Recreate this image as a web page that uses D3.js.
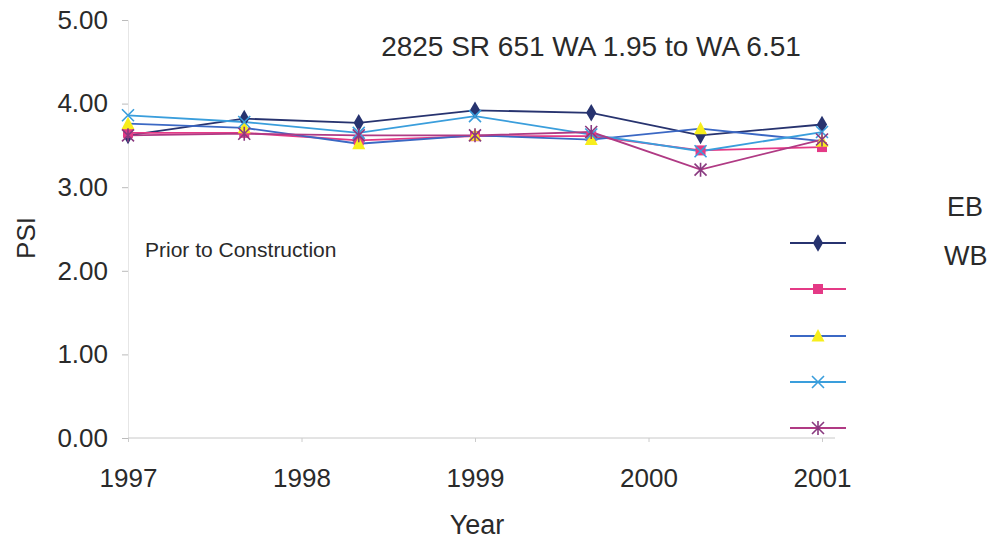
<!DOCTYPE html>
<html><head><meta charset="utf-8">
<script src="https://cdn.jsdelivr.net/npm/d3@7"></script>
<style>body{margin:0;background:#fff}svg{display:block}text{font-family:"Liberation Sans",Arial,sans-serif;fill:#2a2a2a}</style>
</head><body>
<svg id="c" width="1007" height="544"></svg>
<script>
// Data
const years = [1997, 1997.67, 1998.33, 1999, 1999.67, 2000.3, 2001];
const seriesDiamond = [3.62, 3.82, 3.77, 3.92, 3.89, 3.62, 3.75];
const seriesSquare  = [3.65, 3.65, 3.56, 3.61, 3.61, 3.44, 3.48];
const seriesTriangle= [3.76, 3.71, 3.52, 3.62, 3.57, 3.70, 3.55];
const seriesX       = [3.86, 3.78, 3.65, 3.85, 3.63, 3.43, 3.66];
const seriesStar    = [3.62, 3.64, 3.62, 3.62, 3.66, 3.21, 3.57];
const xTicks = [1997, 1998, 1999, 2000, 2001];
const yTicks = [0, 1, 2, 3, 4, 5];
const title = "2825 SR 651 WA 1.95 to WA 6.51";
const note = "Prior to Construction";
const sideLabels = ["EB", "WB"];

const series = [
  {v: seriesDiamond, line: "#27336f", fill: "#27336f", stroke: "#27336f", shape: "diamond"},
  {v: seriesSquare, line: "#e43a86", fill: "#e43a86", stroke: "#e43a86", shape: "square"},
  {v: seriesTriangle, line: "#3b68c4", fill: "#f7ee1c", stroke: "#f7ee1c", shape: "triangle"},
  {v: seriesX, line: "#3a9edc", fill: "none", stroke: "#3a9edc", shape: "x"},
  {v: seriesStar, line: "#b03a84", fill: "none", stroke: "#8a3a80", shape: "star"}
];

const svg = d3.select("#c");
const x = d3.scaleLinear().domain([1997, 2001]).range([128, 822]);
const y = d3.scaleLinear().domain([0, 5]).range([438, 20]);

// y axis
const ya = svg.append("g").attr("transform", "translate(128,0)")
  .call(d3.axisLeft(y).tickValues(yTicks).tickFormat(d3.format(".2f")).tickSize(6).tickPadding(14));
ya.select(".domain").attr("stroke", "#e6e6e6");
ya.selectAll(".tick line").attr("stroke", "#bbb");
ya.selectAll("text").style("font-size", "26px").attr("fill", "#2a2a2a");

// x axis
const xa = svg.append("g").attr("transform", "translate(0,438)")
  .call(d3.axisBottom(x).tickValues(xTicks).tickFormat(d3.format("d")).tickSize(4).tickPadding(27));
xa.select(".domain").attr("stroke", "#c8c8c8").attr("d", "M128,0H835");
xa.selectAll(".tick line").attr("stroke", "#ccc");
xa.selectAll("text").style("font-size", "26px").attr("fill", "#2a2a2a");

// labels
svg.append("text").attr("x", 477).attr("y", 534).attr("text-anchor", "middle").style("font-size", "27px").text("Year");
svg.append("text").attr("transform", "translate(35,238) rotate(-90)").attr("text-anchor", "middle").style("font-size", "26px").text("PSI");
svg.append("text").attr("x", 591).attr("y", 56).attr("text-anchor", "middle").style("font-size", "28px").text(title);
svg.append("text").attr("x", 145).attr("y", 257).style("font-size", "21px").text(note);
svg.append("text").attr("x", 947).attr("y", 216).style("font-size", "27px").text(sideLabels[0]);
svg.append("text").attr("x", 944).attr("y", 265).style("font-size", "27px").text(sideLabels[1]);

function marker(g, shape, fill, stroke) {
  if (shape === "diamond") g.append("path").attr("d", d3.symbol(d3.symbolDiamond, 90)()).attr("fill", fill);
  else if (shape === "square") g.append("rect").attr("x", -5).attr("y", -5).attr("width", 10).attr("height", 10).attr("fill", fill);
  else if (shape === "triangle") g.append("path").attr("d", "M0,-7L6.5,5.5L-6.5,5.5Z").attr("fill", fill);
  else if (shape === "x") g.append("path").attr("d", "M-6,-6L6,6M6,-6L-6,6").attr("stroke", stroke).attr("stroke-width", 1.6);
  else if (shape === "star") g.append("path").attr("d", "M-6,-6L6,6M6,-6L-6,6M0,-7V7").attr("stroke", stroke).attr("stroke-width", 1.6);
}

const line = d3.line().x((d, i) => x(years[i])).y(d => y(d));
series.forEach(s => {
  svg.append("path").attr("d", line(s.v)).attr("fill", "none").attr("stroke", s.line).attr("stroke-width", 1.8);
});
series.forEach(s => {
  s.v.forEach((v, i) => {
    const g = svg.append("g").attr("transform", `translate(${x(years[i])},${y(v)})`);
    marker(g, s.shape, s.fill, s.stroke);
  });
});

// legend (no text)
const legY = [243, 289, 336, 382, 428];
series.forEach((s, i) => {
  svg.append("line").attr("x1", 790).attr("x2", 846).attr("y1", legY[i]).attr("y2", legY[i]).attr("stroke", s.line).attr("stroke-width", 1.8);
  const g = svg.append("g").attr("transform", `translate(818,${legY[i]})`);
  marker(g, s.shape, s.fill, s.stroke);
});
</script>
</body></html>
